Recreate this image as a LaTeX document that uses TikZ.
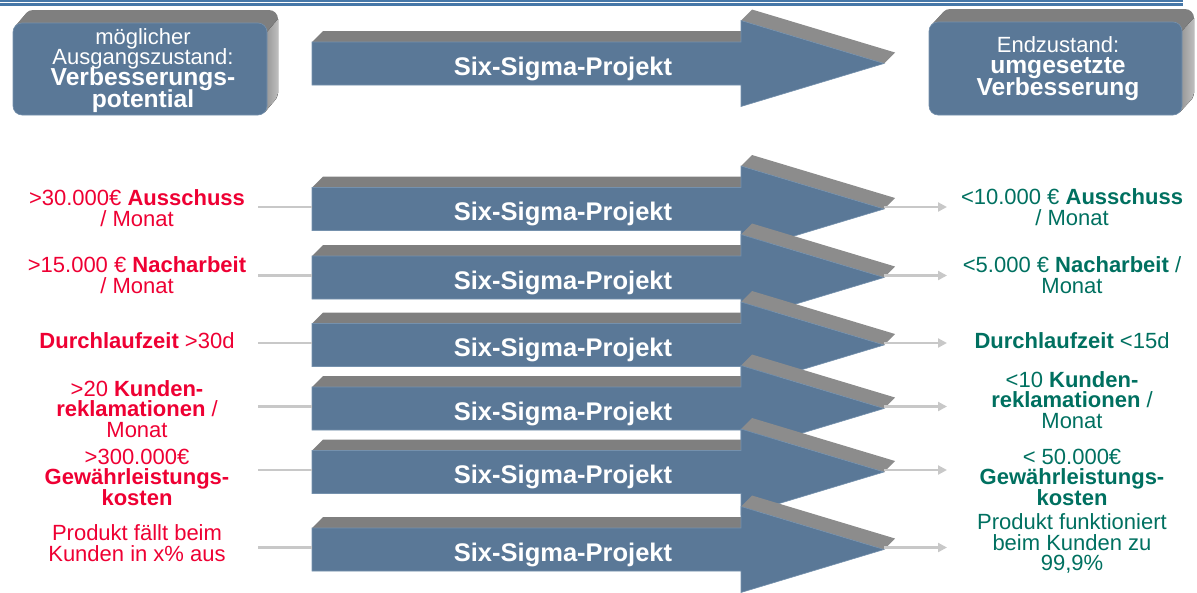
\documentclass[tikz,border=0pt]{standalone}
\usepackage{fontspec}
\setmainfont{Liberation Sans}
\usetikzlibrary{arrows.meta}

\definecolor{frontblue}{HTML}{5A7897}
\definecolor{edgeblue}{HTML}{7591AD}
\definecolor{topgrey}{HTML}{7F7F7F}
\definecolor{slopegrey}{HTML}{8C8C8C}
\definecolor{sidegrey}{HTML}{AEAEAE}
\definecolor{feedgrey}{HTML}{C8C8C8}
\definecolor{ruleblue}{HTML}{4677A8}
\definecolor{badred}{HTML}{EE0033}
\definecolor{goodgreen}{HTML}{007060}

\newcommand\bigbf{\fontsize{24.6}{20}\selectfont\bfseries}

\tikzset{
  projlabel/.style={text=white, font=\fontsize{25.5}{28}\selectfont\bfseries, inner sep=0pt},
  redtext/.style={text=badred, align=center, inner sep=0pt,
    font=\fontsize{22}{20.5}\selectfont},
  greentext/.style={text=goodgreen, align=center, inner sep=0pt,
    font=\fontsize{22}{20.5}\selectfont},
  boxtext/.style={text=white, align=center, inner sep=0pt,
    font=\fontsize{22}{20}\selectfont},
  feeder/.style={draw=feedgrey, line width=2.2pt},
  feedarrow/.style={feeder, -{Triangle[length=9pt,width=9pt]}},
  frontface/.style={fill=frontblue, draw=edgeblue, line width=0.6pt, line join=miter},
}

% 3D block arrow: #1 name, #2 centre line (y)
\newcommand\projarrow[2]{%
  \fill[topgrey] (312,#2-21.5) -- (323,#2-32.5) -- (752,#2-32.5) -- (741,#2-21.5) -- cycle;
  \fill[slopegrey] (741,#2-43) -- (752,#2-54) -- (895,#2-11) -- (884,#2) -- cycle;
  \path[frontface] (312,#2-21.5) -- (741,#2-21.5) -- (741,#2-43) -- (884,#2)
     -- (741,#2+43) -- (741,#2+21.5) -- (312,#2+21.5) -- cycle;
  \node[projlabel, anchor=base] (#1) at (563,#2+11.5) {Six-Sigma-Projekt};
  \coordinate (#1-in) at (312,#2-2);
  \coordinate (#1-tip) at (884,#2-2);
}

% 3D rounded box: #1 left, #2 top, #3 right, #4 bottom of the front face, #5 depth in x
\newcommand\statebox[5]{%
  \foreach \k in {13,12,...,1}{
    \fill[topgrey, rounded corners=9pt]
      ({#1+\k*#5/13},{#2-\k}) rectangle ({#3+\k*#5/13},{#4-\k});
  }
  \fill[left color=sidegrey!85!black, right color=sidegrey!80!white]
    (#3,#2+9) -- (#3+#5,#2-4) -- (#3+#5,#4-22) -- (#3+#5-2,#4-16) -- (#3-2,#4-3) -- cycle;
  \path[frontface, rounded corners=9pt] (#1,#2) rectangle (#3,#4);
}

\begin{document}
\lineskiplimit=-30pt
\begin{tikzpicture}[x=1pt,y=-1pt]
\useasboundingbox (0,0) rectangle (1197,592);

% header rules
\draw[ruleblue, line width=1.8pt] (0,0.9) -- (1183,0.9);
\draw[ruleblue, line width=2.6pt] (0,4.7) -- (1183,4.7);

% start and end states
\statebox{13}{23}{267}{115}{11}
\node[boxtext] (start) at (143,70.5)
  {möglicher\\Ausgangszustand:\\[1pt]\bigbf Verbesserungs-\\[2pt]\bigbf potential};
\statebox{929}{22}{1182}{115}{12}
\node[boxtext] (goal) at (1058,68.5)
  {Endzustand:\\[1pt]\bigbf umgesetzte\\[2pt]\bigbf Verbesserung};

% overall project arrow
\projarrow{p0}{63.5}

% rows: before -> project -> after
\node[redtext] (l1) at (137,208) {>30.000€ \textbf{Ausschuss}\\/ Monat};
\coordinate (l1-out) at (258,207);
\projarrow{p1}{209}
\draw[feeder] (l1-out) -- (p1-in);
\draw[feedarrow] (p1-tip) -- ++(63,0) coordinate (r1-in);
\node[greentext] (r1) at (1072,207) {<10.000 € \textbf{Ausschuss}\\/ Monat};

\node[redtext] (l2) at (137,275) {>15.000 € \textbf{Nacharbeit}\\/ Monat};
\coordinate (l2-out) at (258,275.5);
\projarrow{p2}{277.5}
\draw[feeder] (l2-out) -- (p2-in);
\draw[feedarrow] (p2-tip) -- ++(63,0) coordinate (r2-in);
\node[greentext] (r2) at (1072,275) {<5.000 € \textbf{Nacharbeit} /\\Monat};

\node[redtext] (l3) at (137,341) {\textbf{Durchlaufzeit} >30d};
\coordinate (l3-out) at (258,343);
\projarrow{p3}{345}
\draw[feeder] (l3-out) -- (p3-in);
\draw[feedarrow] (p3-tip) -- ++(63,0) coordinate (r3-in);
\node[greentext] (r3) at (1072,341) {\textbf{Durchlaufzeit} <15d};

\node[redtext] (l4) at (137,409) {>20 \textbf{Kunden-}\\\textbf{reklamationen} /\\Monat};
\coordinate (l4-out) at (258,406.5);
\projarrow{p4}{408.5}
\draw[feeder] (l4-out) -- (p4-in);
\draw[feedarrow] (p4-tip) -- ++(63,0) coordinate (r4-in);
\node[greentext] (r4) at (1072,400) {<10 \textbf{Kunden-}\\\textbf{reklamationen} /\\Monat};

\node[redtext] (l5) at (137,477) {>300.000€\\\textbf{Gewährleistungs-}\\\textbf{kosten}};
\coordinate (l5-out) at (258,470);
\projarrow{p5}{472}
\draw[feeder] (l5-out) -- (p5-in);
\draw[feedarrow] (p5-tip) -- ++(63,0) coordinate (r5-in);
\node[greentext] (r5) at (1072,477) {< 50.000€\\\textbf{Gewährleistungs-}\\\textbf{kosten}};

\node[redtext] (l6) at (137,543) {Produkt fällt beim\\Kunden in x\% aus};
\coordinate (l6-out) at (258,547.5);
\projarrow{p6}{549.5}
\draw[feeder] (l6-out) -- (p6-in);
\draw[feedarrow] (p6-tip) -- ++(63,0) coordinate (r6-in);
\node[greentext] (r6) at (1072,543.5) {Produkt funktioniert\\beim Kunden zu\\99,9\%};
\end{tikzpicture}
\end{document}
